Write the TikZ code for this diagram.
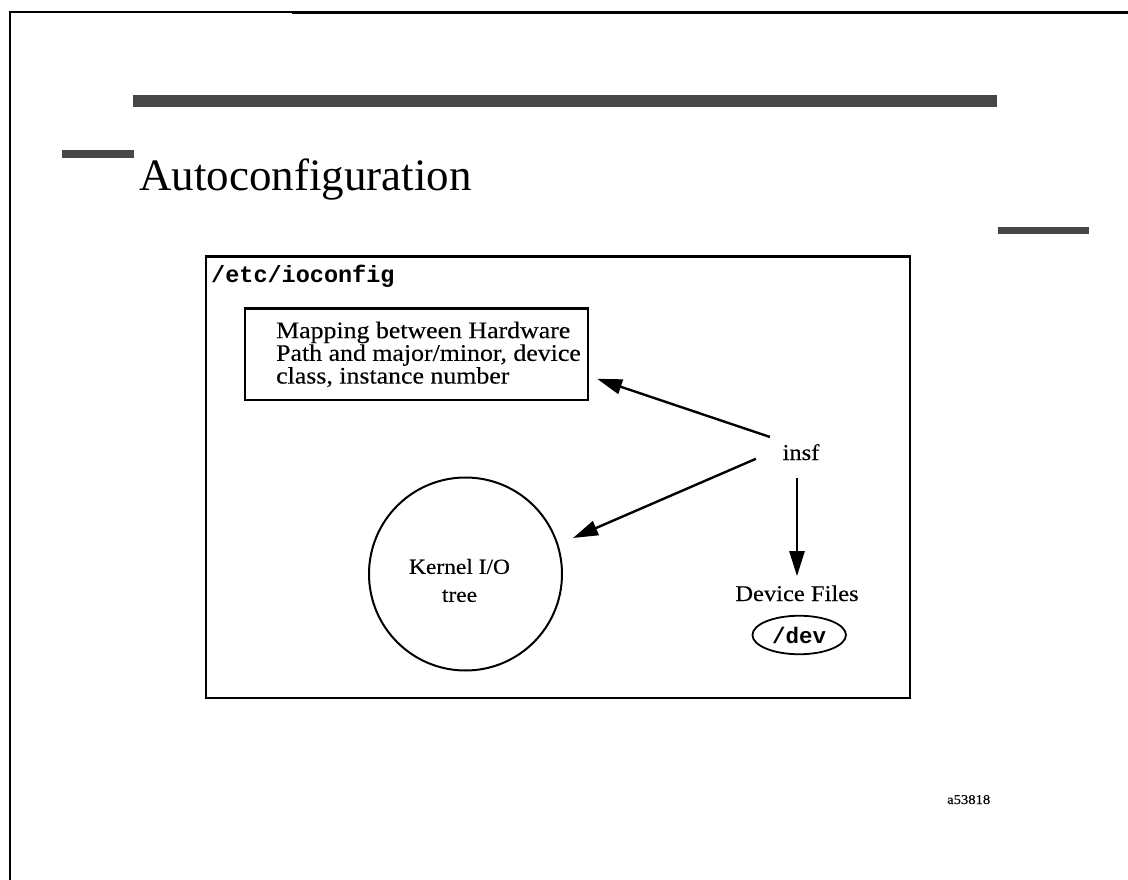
\documentclass[tikz,border=0pt]{standalone}
\usepackage{fontspec}
\setmainfont{Liberation Serif}[FakeStretch=1.09, FakeBold=0.25]
\newfontfamily\titlefont{Liberation Serif}
\newfontfamily\codefont{Liberation Mono}
\usetikzlibrary{arrows.meta,calc,shapes.geometric}

\begin{document}
\begin{tikzpicture}[x=1pt,y=-1pt,
  frame/.style={draw, line width=2.2pt, inner sep=0pt},
  body/.style={font=\fontsize{22.5}{22.7}\selectfont, inner sep=0pt},
  code/.style={font=\codefont\bfseries\fontsize{23.5}{26}\selectfont, inner sep=0pt},
  conn/.style={line width=2.4pt, -{Triangle[length=25pt,width=15pt]}},
  bar/.style={fill=black!72, draw=none}]

  \useasboundingbox (0,0) rectangle (1128,880);

  % page rules and decorative bars
  \draw[line width=1.8pt] (10,880) -- (10,11.8) -- (292,11.8);
  \fill (292,11.3) rectangle (1128,14.3);
  \fill[bar] (133,95) rectangle (997,107);
  \fill[bar] (62,150) rectangle (134,158);
  \fill[bar] (998,227) rectangle (1089,233.5);

  % heading
  \node[anchor=base west, inner sep=0pt, font=\titlefont\fontsize{45}{48}\selectfont]
    (title) at (139,190) {Autoconfiguration};

  % /etc/ioconfig container
  \node[frame, minimum width=704pt, minimum height=441.5pt] (ioconf) at (558,477.2) {};
  \node[code, anchor=base west] (ioname) at (211,282.5) {/etc/ioconfig};

  % mapping box
  \node[frame, minimum width=343pt, minimum height=91.2pt] (map) at (416.5,354.1) {};
  \node[body, font=\fontsize{23.7}{22.7}\selectfont, align=left, anchor=north west]
    (maptext) at (276,321.5)
    {Mapping between Hardware\\Path and major/minor, device\\class, instance number};

  % kernel I/O tree
  \node[frame, circle, line width=2pt, minimum size=193pt] (kio) at (465.5,574) {};
  \node[body, font=\fontsize{21.5}{28}\selectfont, align=center, anchor=north]
    (kiotext) at ($(kio.center)+(-6,-15.3)$) {Kernel I/O\\tree};

  % insf and device files
  \node[body, anchor=base] (insf) at (801,460) {insf};
  \node[body, anchor=base] (devf) at (797,601) {Device Files};
  \node[code, ellipse, draw, line width=1.8pt, minimum width=93.5pt, minimum height=38.5pt,
        font=\codefont\bfseries\fontsize{22.5}{24}\selectfont] (dev) at (799.2,635) {/dev};

  % connectors
  \draw[conn] ($(insf.north west)+(-12.5,-7)$) -- ($(map.south east)+(8,-22)$);
  \draw[conn] ($(insf.west)+(-26.5,6.6)$) -- ($(kio.center)+(107.5,-36)$);
  \draw[conn] ($(insf.south)+(-4,18)$) -- ($(devf.north)+(0,-9)$);

  % figure code
  \node[inner sep=0pt, font=\fontsize{13.4}{15}\selectfont, anchor=base west]
    (figid) at (947,804) {a53818};
\end{tikzpicture}
\end{document}
